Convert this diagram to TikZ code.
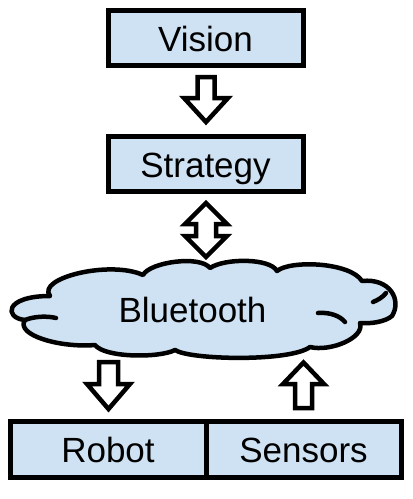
\documentclass[tikz,border=0pt]{standalone}
\usepackage{fontspec}
\setmainfont{Liberation Sans}
\definecolor{boxblue}{RGB}{207,226,243}
\begin{document}
\begin{tikzpicture}[x=1pt,y=-1pt,
  lbox/.style={draw=black,line width=5pt,fill=boxblue,inner sep=0pt,
    minimum height=55.5pt,text height=27.5pt,text depth=0pt,
    font=\fontsize{35}{42}\selectfont},
  blk/.style={draw=black,line width=4.5pt,fill=white,line join=miter},
  cloudline/.style={draw=black,line width=4.5pt,line cap=round,line join=round}]
\useasboundingbox (0,0) rectangle (413,499);

% boxes
\node[lbox,minimum width=195pt] (vision) at (205.5,37.75) {Vision};
\node[lbox,minimum width=195pt] (strategy) at (205.5,163.75) {Strategy};
\node[lbox,minimum width=196pt,minimum height=56pt] (robot) at (108,449) {Robot};
\node[lbox,minimum width=195pt,minimum height=56pt] (sensors) at (303.5,449) {Sensors};

% cloud
\path[fill=boxblue,cloudline] (25,320)
  .. controls (4,318) and (4,296) .. (50,296)
  .. controls (36,278) and (110,260) .. (143,275)
  .. controls (150,262) and (200,255) .. (210,268)
  .. controls (225,258) and (270,258) .. (277,271)
  .. controls (290,260) and (350,262) .. (362,281)
  .. controls (390,278) and (402,300) .. (392,316)
  .. controls (385,322) and (370,324) .. (360,323)
  .. controls (365,338) and (330,352) .. (310,347)
  .. controls (290,362) and (190,360) .. (175,350)
  .. controls (160,358) and (105,358) .. (95,345)
  .. controls (60,348) and (15,335) .. (25,320) -- cycle;
\draw[cloudline] (25,320) .. controls (35,316) and (48,316) .. (56,318);
\draw[cloudline] (318,313) .. controls (330,312) and (340,316) .. (345,322);
\draw[cloudline] (373,302) .. controls (378,300) and (383,297) .. (386,293);
\node[font=\fontsize{35}{42}\selectfont,anchor=base,inner sep=0pt] (bt) at (192.5,322) {Bluetooth};

% block arrows
\draw[blk] (197.5,77) -- (214.5,77) -- (214.5,98) -- (228,98) -- (206,122) -- (184,98) -- (197.5,98) -- cycle;
\draw[blk] (206,203) -- (227,224) -- (216,224) -- (216,236) -- (227,236) -- (206,257) -- (185,236) -- (196,236) -- (196,224) -- (185,224) -- cycle;
\draw[blk] (99,362) -- (118,362) -- (118,384) -- (130,384) -- (108.5,409) -- (87,384) -- (99,384) -- cycle;
\draw[blk] (295,408) -- (312,408) -- (312,384) -- (324,384) -- (303.5,362.5) -- (283,384) -- (295,384) -- cycle;
\end{tikzpicture}
\end{document}
